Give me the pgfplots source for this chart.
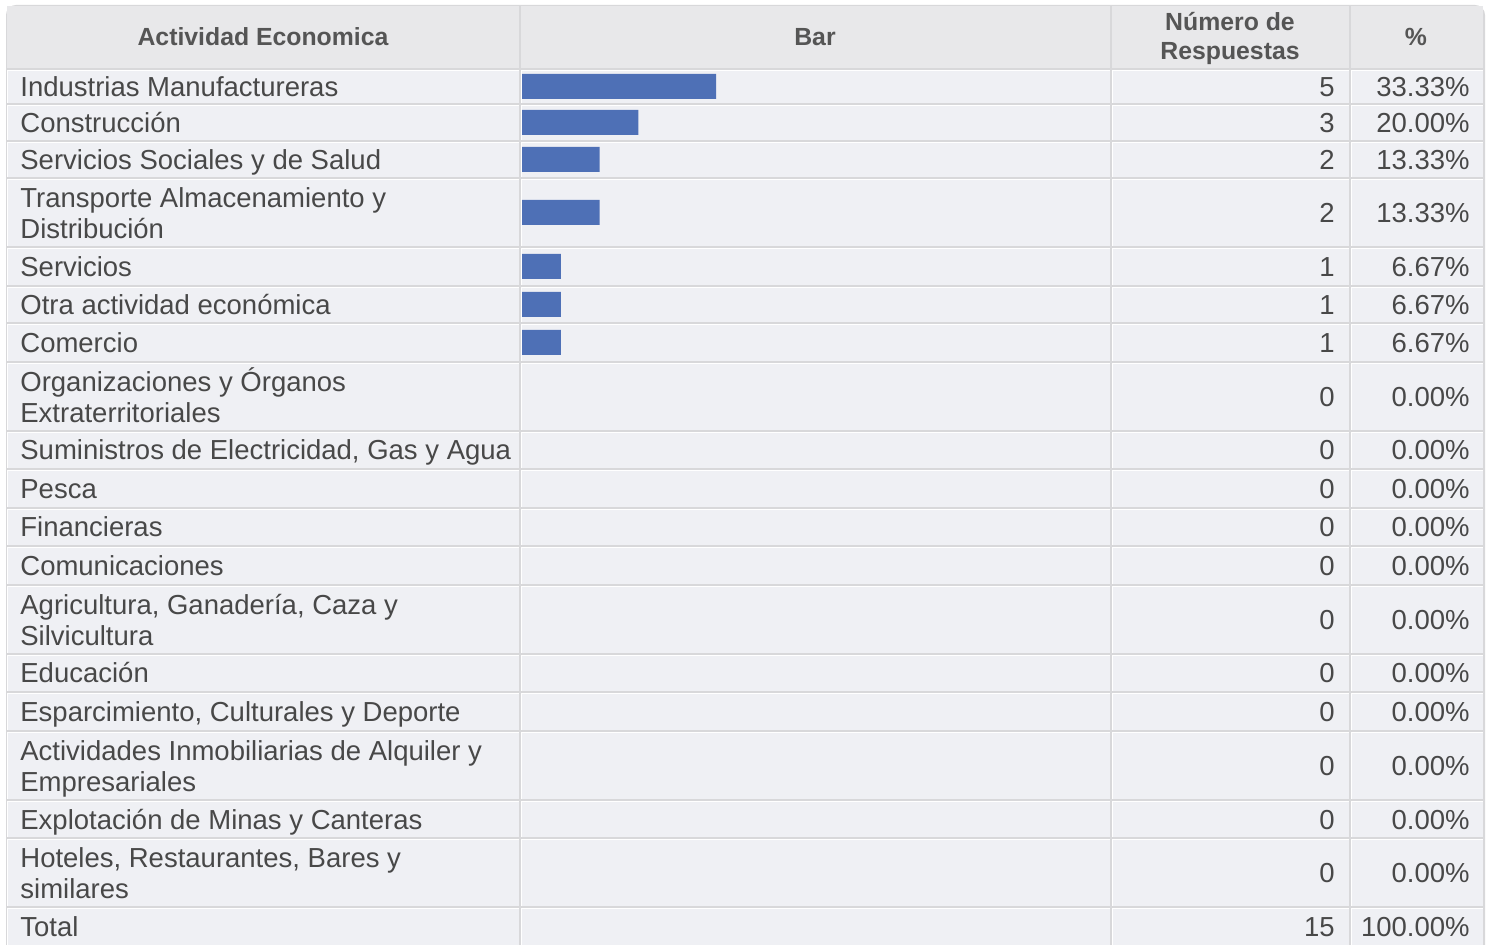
\documentclass[border=0pt]{standalone}
\usepackage{pgfplots}
\pgfplotsset{compat=1.18}
\usepackage{pgfplotstable}
\usepackage{fontspec}
\setmainfont{Liberation Sans}
\definecolor{barblue}{RGB}{78,112,182}
\definecolor{cellbg}{RGB}{239,240,244}
\definecolor{headbg}{RGB}{232,232,234}
\definecolor{sepgray}{RGB}{216,216,218}
\definecolor{txt}{RGB}{72,72,72}
\definecolor{htxt}{RGB}{85,85,85}

% y = row centre (pixels from top), n = Número de Respuestas
\pgfplotstableread{
y n
86.5 5
122.5 3
159.5 2
212.5 2
266.5 1
304.5 1
342.5 1
396.5 0
450 0
488.5 0
527 0
565.5 0
619.5 0
673 0
711.5 0
765.5 0
819 0
872.5 0
}\bars

\newcommand{\bodyfont}{\fontsize{13.75}{16}\selectfont\color{txt}}
\newcommand{\headfont}{\fontsize{12.4}{14}\selectfont\bfseries\color{htxt}}

\begin{document}
\begin{tikzpicture}
\begin{scope}[x=0.5pt,y=-0.5pt]
\path[use as bounding box] (0,0) rectangle (1494,945);
\fill[white] (0,0) rectangle (1494,945);
\fill[sepgray, rounded corners=5pt] (6,960) rectangle (1485,5);
% header cells
\foreach \l/\r in {7/519,521/1110,1112/1349,1351/1483}{
  \fill[headbg] (\l,6) rectangle (\r,68);
}
% body cells
\foreach \t/\b in {70/103,105/140,142/177,179/246,248/285,287/322,324/361,363/430,432/468,470/507,509/545,547/584,586/653,655/691,693/730,732/799,801/837,839/906,908/945}{
  \foreach \l/\r in {7/519,521/1110,1112/1349,1351/1483}{
    \fill[cellbg] (\l,\t) rectangle (\r,\b);
    \fill[white] (\l,\t) rectangle (\r,\t+1);
    \fill[white] (\l,\t) rectangle (\l+1,\b);
  }
}
% header text
\node[anchor=base, font=\headfont] at (263,46) {Actividad Economica};
\node[anchor=base, font=\headfont] at (815,46) {Bar};
\node[anchor=base, font=\headfont] at (1230,31) {Número de};
\node[anchor=base, font=\headfont] at (1230,60) {Respuestas};
\node[anchor=base, font=\headfont] at (1416,46) {\%};
% single-line labels
\foreach \yc/\lab/\n/\p in {
  86.5/Industrias Manufactureras/5/33.33\%,
  122.5/Construcción/3/20.00\%,
  159.5/Servicios Sociales y de Salud/2/13.33\%,
  266.5/Servicios/1/6.67\%,
  304.5/Otra actividad económica/1/6.67\%,
  342.5/Comercio/1/6.67\%,
  450/{Suministros de Electricidad, Gas y Agua}/0/0.00\%,
  488.5/Pesca/0/0.00\%,
  527/Financieras/0/0.00\%,
  565.5/Comunicaciones/0/0.00\%,
  673/Educación/0/0.00\%,
  711.5/{Esparcimiento, Culturales y Deporte}/0/0.00\%,
  819/Explotación de Minas y Canteras/0/0.00\%,
  926.5/Total/15/100.00\%}{
  \node[anchor=base west, inner sep=0pt, font=\bodyfont] at (20,\yc+10) {\lab};
  \node[anchor=base east, inner sep=0pt, font=\bodyfont] at (1335,\yc+10) {\n};
  \node[anchor=base east, inner sep=0pt, font=\bodyfont] at (1470,\yc+10) {\p};
}
% two-line labels
\foreach \yc/\la/\lb/\n/\p in {
  212.5/Transporte Almacenamiento y/Distribución/2/13.33\%,
  396.5/Organizaciones y Órganos/Extraterritoriales/0/0.00\%,
  619.5/{Agricultura, Ganadería, Caza y}/Silvicultura/0/0.00\%,
  765.5/Actividades Inmobiliarias de Alquiler y/Empresariales/0/0.00\%,
  872.5/{Hoteles, Restaurantes, Bares y}/similares/0/0.00\%}{
  \node[anchor=base west, inner sep=0pt, font=\bodyfont] at (20,\yc-5) {\la};
  \node[anchor=base west, inner sep=0pt, font=\bodyfont] at (20,\yc+26) {\lb};
  \node[anchor=base east, inner sep=0pt, font=\bodyfont] at (1335,\yc+10) {\n};
  \node[anchor=base east, inner sep=0pt, font=\bodyfont] at (1470,\yc+10) {\p};
}
\end{scope}
\begin{axis}[at={(261pt,-34pt)}, anchor=north west, scale only axis,
  width=294pt, height=438.5pt, xmin=0, xmax=15.1546, ymin=68, ymax=945,
  y dir=reverse, hide axis, clip=false]
\addplot[xbar, bar width=12.5pt, bar shift=0pt, fill=barblue, draw=none,
  restrict x to domain=0.1:100] table[x=n,y=y]{\bars};
\end{axis}
\end{tikzpicture}
\end{document}
